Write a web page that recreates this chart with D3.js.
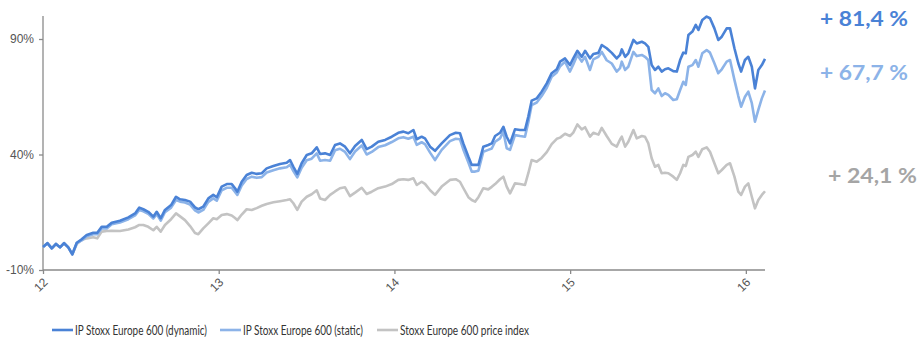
<!DOCTYPE html>
<html><head><meta charset="utf-8">
<script src="https://cdn.jsdelivr.net/npm/d3@7"></script>
<style>body{margin:0;background:#fff}svg{display:block}</style>
</head><body><svg id="c" width="920" height="339"></svg>
<script>
const dates = [2012.000,2012.025,2012.050,2012.074,2012.097,2012.120,2012.144,2012.167,2012.192,2012.220,2012.249,2012.286,2012.309,2012.334,2012.363,2012.391,2012.438,2012.486,2012.524,2012.548,2012.571,2012.599,2012.628,2012.647,2012.670,2012.694,2012.729,2012.757,2012.780,2012.808,2012.837,2012.865,2012.884,2012.912,2012.941,2012.969,2012.989,2013.017,2013.046,2013.074,2013.093,2013.106,2013.131,2013.159,2013.188,2013.216,2013.245,2013.273,2013.311,2013.349,2013.387,2013.406,2013.425,2013.447,2013.472,2013.501,2013.529,2013.558,2013.577,2013.605,2013.634,2013.662,2013.690,2013.719,2013.747,2013.776,2013.814,2013.842,2013.871,2013.908,2013.947,2013.985,2014.022,2014.051,2014.079,2014.108,2014.127,2014.155,2014.174,2014.203,2014.231,2014.269,2014.316,2014.349,2014.373,2014.392,2014.421,2014.440,2014.459,2014.478,2014.506,2014.534,2014.554,2014.573,2014.601,2014.620,2014.639,2014.658,2014.686,2014.715,2014.743,2014.762,2014.781,2014.810,2014.838,2014.867,2014.895,2014.924,2014.943,2014.971,2014.999,2015.018,2015.041,2015.066,2015.085,2015.113,2015.132,2015.161,2015.180,2015.208,2015.237,2015.265,2015.284,2015.294,2015.313,2015.331,2015.360,2015.379,2015.408,2015.426,2015.445,2015.464,2015.483,2015.502,2015.521,2015.540,2015.559,2015.587,2015.607,2015.626,2015.644,2015.658,2015.673,2015.696,2015.715,2015.730,2015.752,2015.777,2015.796,2015.821,2015.843,2015.863,2015.891,2015.910,2015.935,2015.957,2015.973,2015.995,2016.014,2016.034,2016.052,2016.071,2016.091,2016.109];
const dynamic = [0,1.6,-0.6,1.3,-0.2,1.6,-0.2,-3.2,1.8,3.3,5.2,6.1,6.1,8.7,8.7,10.5,11.3,12.8,14.5,17.0,16.3,15.2,13.1,15.2,12.4,16.0,18.1,21.7,20.6,20.3,19.6,17.1,16.3,17.4,21.0,22.5,21.5,26.1,27.2,27.2,25.4,23.9,28.2,31.1,32.1,31.6,31.9,34.0,35.0,35.9,36.4,37.6,34.7,31.6,36.2,39.8,40.5,43.1,40.2,40.5,39.8,44.1,44.8,43.4,40.5,43.7,46.3,42.3,43.4,45.5,46.3,47.7,49.4,49.9,49.2,50.6,46.6,47.7,47.0,43.4,41.6,44.8,48.4,49.4,49.2,44.8,39.0,35.5,35.5,35.5,43.4,44.1,44.8,48.0,49.4,52.0,47.7,44.8,50.9,50.6,50.6,56.4,63.3,64.3,67.2,70.8,75.2,76.9,80.2,81.6,78.7,81.6,84.9,82.3,84.9,81.6,83.5,84.0,87.4,86.0,84.0,81.6,83.1,85.5,82.3,83.8,89.6,88.1,88.8,88.1,86.6,78.7,76.6,78.0,75.9,76.9,77.3,76.1,75.9,80.9,84.1,83.8,91.7,93.2,96.1,93.9,98.2,99.7,99.0,94.6,89.6,91.0,94.6,94.6,86.0,79.5,75.9,80.9,82.3,78.0,68.6,76.6,78.7,81.4];
const staticIdx = [0,1.6,-0.6,1.3,-0.2,1.6,-0.2,-3.2,1.6,2.8,4.6,5.5,5.5,8.0,8.0,9.8,10.6,12.0,13.6,16.0,15.4,14.3,12.3,14.2,11.4,15.0,17.0,20.3,19.6,19.2,18.3,15.8,14.9,16.0,19.5,21.0,20.0,24.5,25.6,25.6,23.8,22.5,26.6,29.4,30.4,29.9,30.2,32.2,33.2,34.0,34.5,35.6,32.8,30.1,34.3,37.5,38.2,40.5,37.3,37.6,37.3,41.8,42.5,41.1,38.0,41.3,43.9,40.0,41.1,43.2,44.0,45.4,47.0,47.5,46.8,47.7,44.2,45.3,44.5,40.8,37.6,42.0,45.8,46.8,46.6,42.2,36.5,32.6,32.6,33.0,41.2,42.0,42.6,45.5,47.0,49.9,42.7,42.0,48.4,48.0,47.7,54.0,61.4,62.5,65.3,68.9,73.7,75.5,78.2,80.2,75.9,79.0,83.1,80.2,82.3,76.6,81.2,82.3,84.4,80.8,79.4,75.9,77.4,80.2,76.6,78.0,84.4,82.6,83.1,82.3,80.9,67.9,66.5,68.6,65.3,66.5,65.8,63.6,63.9,67.9,71.5,70.1,78.0,78.7,80.9,78.0,83.8,85.2,84.1,79.5,75.2,76.9,80.2,80.9,72.3,65.3,60.7,65.0,67.2,62.2,54.2,59.3,64.3,67.7];
const priceIndex = [0,1.6,-0.6,1.3,-0.2,1.6,-0.2,-3.2,1.2,3.0,3.7,4.2,3.7,6.6,6.9,7.0,6.9,7.5,8.5,9.5,9.5,8.7,7.2,8.7,6.6,9.5,12.0,14.5,13.2,11.6,9.0,6.0,5.5,8.0,10.2,12.4,12.0,13.8,14.2,13.6,12.5,11.6,14.0,16.3,16.0,16.8,17.8,18.6,19.3,19.8,20.3,20.6,18.9,16.0,19.6,21.7,22.8,24.5,21.0,20.3,22.5,24.0,25.4,25.8,22.0,23.5,25.6,22.9,23.9,25.4,26.1,27.2,29.0,29.3,29.0,29.7,26.8,28.2,27.3,24.5,22.5,26.1,29.0,29.3,28.2,25.5,21.5,20.3,19.6,21.5,25.4,24.9,26.0,27.2,29.3,30.4,26.1,23.2,27.5,27.2,26.8,31.9,37.6,36.9,38.5,41.0,44.5,46.8,47.3,49.0,48.0,49.5,53.0,50.9,51.8,47.7,49.4,48.6,51.5,48.0,44.6,43.4,46.5,47.7,43.4,45.5,50.6,47.0,48.0,47.7,44.8,38.4,34.7,35.5,31.9,32.1,31.9,30.4,29.0,31.9,35.5,35.0,39.0,39.8,41.2,39.0,42.3,43.1,41.2,36.2,31.9,33.3,35.5,36.2,30.4,23.9,22.5,26.1,27.5,21.7,16.7,20.3,22.5,24.1];
const yTicks = [-10, 40, 90];
const xTicks = [2012, 2013, 2014, 2015, 2016];
const xTickLabels = ["12", "13", "14", "15", "16"];
const seriesNames = ["IP Stoxx Europe 600 (dynamic)", "IP Stoxx Europe 600 (static)", "Stoxx Europe 600 price index"];
const endLabels = ["+ 81,4 %", "+ 67,7 %", "+ 24,1 %"];
const colors = ["#4a82d6", "#8cb3e8", "#c3c3c3"];

const svg = d3.select("#c");
const x = d3.scaleLinear().domain([2012, 2016.109]).range([43, 765]);
const y = d3.scaleLinear().domain([-10, 100]).range([270, 15.9]);

// axes
const yAxis = svg.append("g").attr("transform", "translate(43,0)")
  .call(d3.axisLeft(y).tickValues(yTicks).tickSize(4).tickFormat(d => d + "%"));
const xAxis = svg.append("g").attr("transform", "translate(0,270)")
  .call(d3.axisBottom(x).tickValues(xTicks).tickSize(4).tickFormat((d, i) => xTickLabels[i]));
[yAxis, xAxis].forEach(g => {
  g.select(".domain").attr("stroke", "#8a8a8a").attr("stroke-width", 1.3);
  g.selectAll(".tick line").attr("stroke", "#8a8a8a").attr("stroke-width", 1.3);
  g.selectAll("text").attr("fill", "#555").attr("font-family", "Liberation Sans, Arial, sans-serif").attr("font-size", 12);
});
yAxis.select(".domain").attr("d", `M0,${y(100)}V${y(-10)}`);
xAxis.select(".domain").attr("d", `M43,0H765`);
yAxis.selectAll("text").attr("x", -9);
xAxis.selectAll("text").attr("text-anchor", "end").attr("dy", null).attr("y", 0)
  .attr("transform", "translate(5,13) rotate(-45)");

// lines
const allSeries = [dynamic, staticIdx, priceIndex];
const line = d3.line().x((d, i) => x(dates[i])).y(d => y(d)).curve(d3.curveLinear);
[2, 1, 0].forEach(k => {
  svg.append("path").datum(allSeries[k]).attr("d", line)
    .attr("fill", "none").attr("stroke", colors[k]).attr("stroke-width", 2.6)
    .attr("stroke-linejoin", "round");
});

// end labels
const endY = [18, 72, 175];
const endX = [820, 820, 828];
const endW = [88, 88, 89];
endLabels.forEach((t, k) => {
  svg.append("text").attr("x", endX[k]).attr("y", endY[k]).attr("dy", "0.36em")
    .attr("fill", colors[k] === "#c3c3c3" ? "#a5a5a5" : colors[k])
    .attr("font-family", "Lato, sans-serif").attr("font-weight", "bold").attr("font-size", 21)
    .attr("textLength", endW[k]).attr("lengthAdjust", "spacingAndGlyphs")
    .text(t);
});

// legend
const legX = [52, 220, 377];
const legW = [132, 120, 129];
seriesNames.forEach((n, k) => {
  const g = svg.append("g").attr("transform", `translate(${legX[k]},330)`);
  g.append("line").attr("x1", 0).attr("x2", 21).attr("stroke", colors[k]).attr("stroke-width", 2.6);
  g.append("text").attr("x", 23).attr("dy", "0.36em").attr("fill", "#333")
    .attr("font-family", "Lato, sans-serif").attr("font-size", 13.5)
    .attr("textLength", legW[k]).attr("lengthAdjust", "spacingAndGlyphs").text(n);
});
</script></body></html>
